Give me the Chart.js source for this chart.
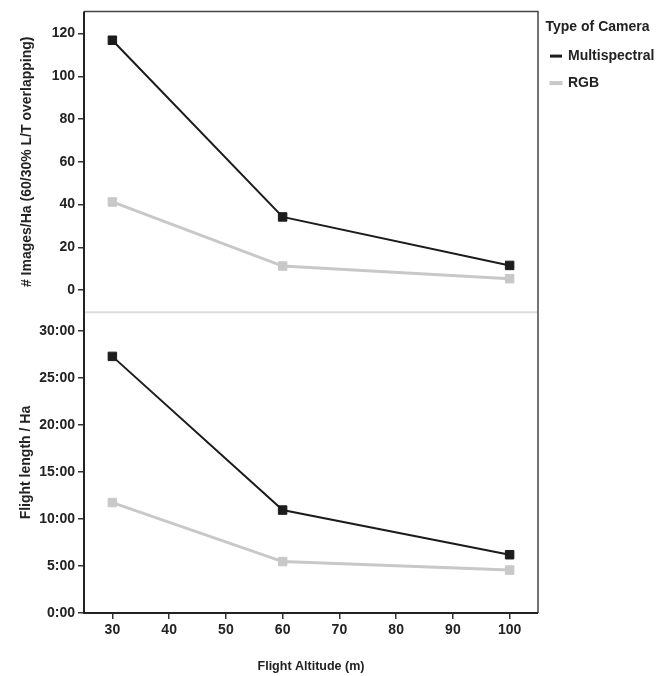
<!DOCTYPE html>
<html>
<head>
<meta charset="utf-8">
<title>Flight altitude vs images and flight length</title>
<script src="https://cdn.jsdelivr.net/npm/chart.js@4.4.0/dist/chart.umd.min.js"></script>
<style>
    html, body { margin: 0; padding: 0; background: #fff; }
    #wrap { position: relative; width: 666px; height: 676px; }
</style>
</head>
<body>
<div id="wrap"><canvas id="altitudeChart"></canvas></div>
<script>
const altitudes = [30, 60, 100];
const cameraTypes = ['Multispectral', 'RGB'];
const imagesMultispectral = [116.9, 34.2, 11.5];
const imagesRgb = [41.2, 11.2, 5.3];
// flight length per hectare, in minutes
const minutesMultispectral = [27.3, 10.95, 6.2];
const minutesRgb = [11.75, 5.47, 4.57];

const altitudeTicks = [30, 40, 50, 60, 70, 80, 90, 100];
const imageTicks = [0, 20, 40, 60, 80, 100, 120];
const minuteTicks = [0, 5, 10, 15, 20, 25, 30];
const minuteTickLabels = ['0:00', '5:00', '10:00', '15:00', '20:00', '25:00', '30:00'];

const seriesColors = ['#1c1c1c', '#c8c8c8'];
const seriesWidths = [2, 3];

Chart.defaults.font.family = '"Liberation Sans", Arial, Helvetica, sans-serif';
Chart.defaults.color = '#222';

function toPoints(values) {
    return altitudes.map((alt, i) => ({ x: alt, y: values[i] }));
}

function makeDataset(label, values, idx, axisId) {
    return {
        label: label,
        data: toPoints(values),
        xAxisID: 'x',
        yAxisID: axisId,
        borderColor: seriesColors[idx],
        backgroundColor: seriesColors[idx],
        borderWidth: seriesWidths[idx],
        pointStyle: 'rect',
        pointRadius: 6,
        pointBorderWidth: 1,
        pointHoverRadius: 6,
        tension: 0
    };
}

// box round the plot area, with the light line that splits the two panels
const framePlugin = {
    id: 'frame',
    afterDatasetsDraw(chart) {
        const { ctx, chartArea: a, scales } = chart;
        const sep = scales.yImages.bottom;
        ctx.save();
        ctx.strokeStyle = '#dcdcdc';
        ctx.lineWidth = 2;
        ctx.beginPath();
        ctx.moveTo(a.left + 1, sep);
        ctx.lineTo(a.right - 1, sep);
        ctx.stroke();

        ctx.strokeStyle = '#444';
        ctx.lineWidth = 1.5;
        ctx.beginPath();
        ctx.moveTo(a.left, a.top);
        ctx.lineTo(a.right, a.top);
        ctx.lineTo(a.right, a.bottom);
        ctx.stroke();

        ctx.strokeStyle = '#222';
        ctx.lineWidth = 2;
        ctx.beginPath();
        ctx.moveTo(a.left, a.top);
        ctx.lineTo(a.left, a.bottom);
        ctx.lineTo(a.right, a.bottom);
        ctx.stroke();
        ctx.restore();
    }
};

const tickFont = { size: 14, weight: 'bold' };
const axisTitleFont = { size: 14, weight: 'bold' };
const tickGrid = { drawOnChartArea: false, drawTicks: true, tickLength: 6, color: '#333', lineWidth: 1.5 };

new Chart(document.getElementById('altitudeChart'), {
    type: 'line',
    data: {
        datasets: [
            makeDataset(cameraTypes[0], imagesMultispectral, 0, 'yImages'),
            makeDataset(cameraTypes[1], imagesRgb, 1, 'yImages'),
            makeDataset(cameraTypes[0], minutesMultispectral, 0, 'yMinutes'),
            makeDataset(cameraTypes[1], minutesRgb, 1, 'yMinutes')
        ]
    },
    options: {
        responsive: true,
        maintainAspectRatio: false,
        animation: false,
        events: [],
        layout: { padding: { top: 10, right: 9, bottom: 0, left: 0 } },
        plugins: {
            tooltip: { enabled: false },
            legend: {
                position: 'right',
                align: 'start',
                maxWidth: 119,
                title: {
                    display: true,
                    text: 'Type of Camera',
                    position: 'center',
                    color: '#222',
                    font: { size: 14, weight: 'bold', lineHeight: 1.15 },
                    padding: { top: 10, bottom: 0 }
                },
                labels: {
                    boxWidth: 10,
                    boxHeight: 1,
                    padding: 13,
                    color: '#222',
                    font: { size: 14, weight: 'bold' },
                    filter: item => item.datasetIndex < 2
                }
            }
        },
        scales: {
            x: {
                type: 'linear',
                position: 'bottom',
                min: 25,
                max: 105,
                border: { display: false },
                grid: tickGrid,
                afterBuildTicks: scale => { scale.ticks = altitudeTicks.map(v => ({ value: v })); },
                afterFit: scale => { scale.height = 63; },
                ticks: { font: tickFont, padding: 3, color: '#222' },
                title: {
                    display: true,
                    text: 'Flight Altitude (m)',
                    font: { size: 12.5, weight: 'bold' },
                    color: '#222',
                    padding: { top: 0, bottom: 2 }
                }
            },
            yImages: {
                type: 'linear',
                position: 'left',
                stack: 'panels',
                stackWeight: 1,
                weight: 1,
                min: -10.4,
                max: 130.4,
                border: { display: false },
                grid: tickGrid,
                afterBuildTicks: scale => { scale.ticks = imageTicks.map(v => ({ value: v })); },
                afterFit: scale => { scale.width = 84; },
                ticks: { font: tickFont, padding: 3, color: '#222' },
                title: {
                    display: true,
                    text: '# Images/Ha (60/30% L/T overlapping)',
                    font: axisTitleFont,
                    color: '#222',
                    padding: { top: 19, bottom: 0 }
                }
            },
            yMinutes: {
                type: 'linear',
                position: 'left',
                stack: 'panels',
                stackWeight: 1,
                weight: 0,
                min: 0,
                max: 32,
                border: { display: false },
                grid: tickGrid,
                afterBuildTicks: scale => { scale.ticks = minuteTicks.map(v => ({ value: v })); },
                afterFit: scale => { scale.width = 84; },
                ticks: {
                    font: tickFont,
                    padding: 3,
                    color: '#222',
                    callback: value => minuteTickLabels[minuteTicks.indexOf(value)]
                },
                title: {
                    display: true,
                    text: 'Flight length / Ha',
                    font: axisTitleFont,
                    color: '#222',
                    padding: { top: 18, bottom: 0 }
                }
            }
        }
    },
    plugins: [framePlugin]
});
</script>
</body>
</html>
